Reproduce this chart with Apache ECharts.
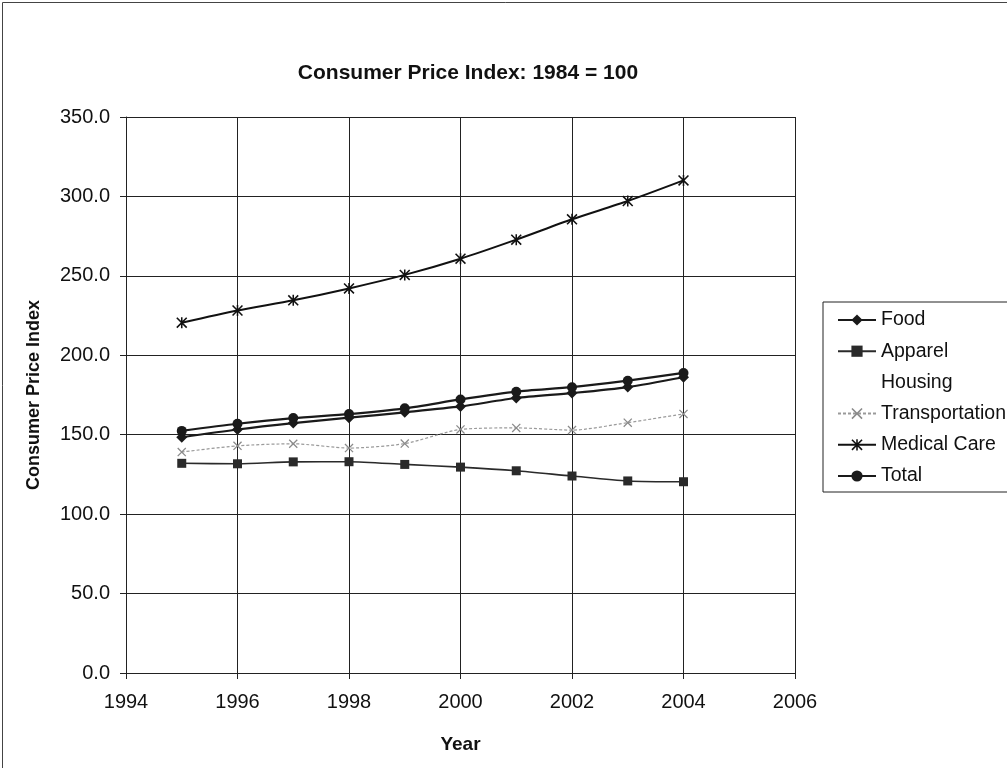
<!DOCTYPE html>
<html>
<head>
<meta charset="utf-8">
<title>Consumer Price Index</title>
<script src="https://cdn.jsdelivr.net/npm/echarts@6/dist/echarts.min.js"></script>
<style>
  html, body { margin: 0; padding: 0; background: #fff; }
  #chart { width: 1007px; height: 768px; }
</style>
</head>
<body>
<div id="chart"></div>
<script>
'use strict';

// data
var years = [1995, 1996, 1997, 1998, 1999, 2000, 2001, 2002, 2003, 2004];
var food = [148.4, 153.3, 157.3, 160.7, 164.1, 167.8, 173.1, 176.2, 180.0, 186.2];
var apparel = [132.0, 131.7, 132.9, 133.0, 131.3, 129.6, 127.3, 124.0, 120.9, 120.4];
var housing = [];
var transportation = [139.1, 143.0, 144.3, 141.6, 144.4, 153.3, 154.3, 152.9, 157.6, 163.1];
var medicalCare = [220.5, 228.2, 234.6, 242.1, 250.6, 260.8, 272.8, 285.6, 297.1, 310.1];
var total = [152.4, 156.9, 160.5, 163.0, 166.6, 172.2, 177.1, 179.9, 184.0, 188.9];

var xTicks = [1994, 1996, 1998, 2000, 2002, 2004, 2006];
var yTicks = [0, 50, 100, 150, 200, 250, 300, 350];

var FONT = '"Liberation Sans", Arial, sans-serif';

// x marker and asterisk marker
var xMark = 'path://M0,1L1,0L10,9L9,10ZM9,0L10,1L1,10L0,9Z';
var starMark = 'path://M0,1L1,0L10,9L9,10ZM9,0L10,1L1,10L0,9ZM4.3,0L5.7,0L5.7,10L4.3,10Z';

function pairs(vals) {
  return vals.map(function (v, i) { return [years[i], v]; });
}

function line(name, vals, opts) {
  return Object.assign({
    name: name,
    type: 'line',
    data: pairs(vals),
    smooth: 0.25,
    symbolSize: 9,
    showSymbol: true,
    z: 3,
    emphasis: { disabled: true }
  }, opts);
}

var myChart = echarts.init(document.getElementById('chart'), null, { renderer: 'canvas' });

var option = {
  backgroundColor: '#fff',
  animation: false,
  textStyle: { fontFamily: FONT, color: '#000' },
  title: {
    text: 'Consumer Price Index: 1984 = 100',
    left: 463,
    top: 58,
    textAlign: 'center',
    textStyle: { fontFamily: FONT, fontSize: 21, fontWeight: 'bold', color: '#111' }
  },
  // outer frame: only left and top edges fall inside the picture
  graphic: [{
    type: 'rect',
    shape: { x: 2.5, y: 2.5, width: 1015, height: 775 },
    style: { fill: 'none', stroke: '#444', lineWidth: 1 },
    silent: true
  }],
  legend: {
    orient: 'vertical',
    left: 823,
    top: 302,
    padding: [8, 12, 6, 14],
    itemWidth: 38,
    itemHeight: 14,
    itemGap: 11.2,
    borderColor: '#222',
    borderWidth: 1,
    selectedMode: false,
    textStyle: { fontFamily: FONT, fontSize: 19.5, lineHeight: 20, color: '#111' },
    data: [
      { name: 'Food' },
      { name: 'Apparel' },
      { name: 'Housing', icon: 'none', itemStyle: { opacity: 0 }, lineStyle: { opacity: 0 } },
      { name: 'Transportation' },
      { name: 'Medical Care' },
      { name: 'Total' }
    ]
  },
  grid: { left: 126, right: 212, top: 117, bottom: 95, containLabel: false },
  xAxis: {
    type: 'value',
    min: xTicks[0],
    max: xTicks[xTicks.length - 1],
    interval: 2,
    name: 'Year',
    nameLocation: 'middle',
    nameGap: 62,
    nameTextStyle: { fontFamily: FONT, fontSize: 19, fontWeight: 'bold', color: '#111' },
    axisLine: { lineStyle: { color: '#222', width: 1 } },
    axisTick: { show: true, length: 6, inside: false, lineStyle: { color: '#222' } },
    axisLabel: { fontFamily: FONT, fontSize: 20, color: '#111', margin: 19, formatter: function (v) { return String(v); } },
    splitLine: { show: true, lineStyle: { color: '#222', width: 1 } }
  },
  yAxis: {
    type: 'value',
    min: yTicks[0],
    max: yTicks[yTicks.length - 1],
    interval: 50,
    name: 'Consumer Price Index',
    nameLocation: 'middle',
    nameRotate: 90,
    nameGap: 83,
    nameTextStyle: { fontFamily: FONT, fontSize: 18, fontWeight: 'bold', color: '#111' },
    axisLine: { show: true, lineStyle: { color: '#222', width: 1 } },
    axisTick: { show: true, length: 6, inside: false, lineStyle: { color: '#222' } },
    axisLabel: { fontFamily: FONT, fontSize: 20, color: '#111', margin: 16, formatter: function (v) { return v.toFixed(1); } },
    splitLine: { show: true, lineStyle: { color: '#222', width: 1 } }
  },
  series: [
    line('Food', food, {
      symbol: 'diamond', symbolSize: 11,
      itemStyle: { color: '#1a1a1a' },
      lineStyle: { color: '#1a1a1a', width: 2.2 }
    }),
    line('Apparel', apparel, {
      symbol: 'rect', symbolSize: 9,
      itemStyle: { color: '#2a2a2a' },
      lineStyle: { color: '#2a2a2a', width: 1.6 }
    }),
    line('Housing', housing, {
      symbol: 'none',
      itemStyle: { color: '#fff', opacity: 0 },
      lineStyle: { opacity: 0 }
    }),
    line('Transportation', transportation, {
      symbol: xMark, symbolSize: 9,
      itemStyle: { color: '#8a8a8a' },
      lineStyle: { color: '#9a9a9a', width: 1.2, type: [3, 2] }
    }),
    line('Medical Care', medicalCare, {
      symbol: starMark, symbolSize: 11,
      itemStyle: { color: '#111' },
      lineStyle: { color: '#111', width: 2 }
    }),
    line('Total', total, {
      symbol: 'circle', symbolSize: 10,
      itemStyle: { color: '#1a1a1a' },
      lineStyle: { color: '#1a1a1a', width: 2.2 }
    })
  ]
};

myChart.setOption(option);
</script>
</body>
</html>
